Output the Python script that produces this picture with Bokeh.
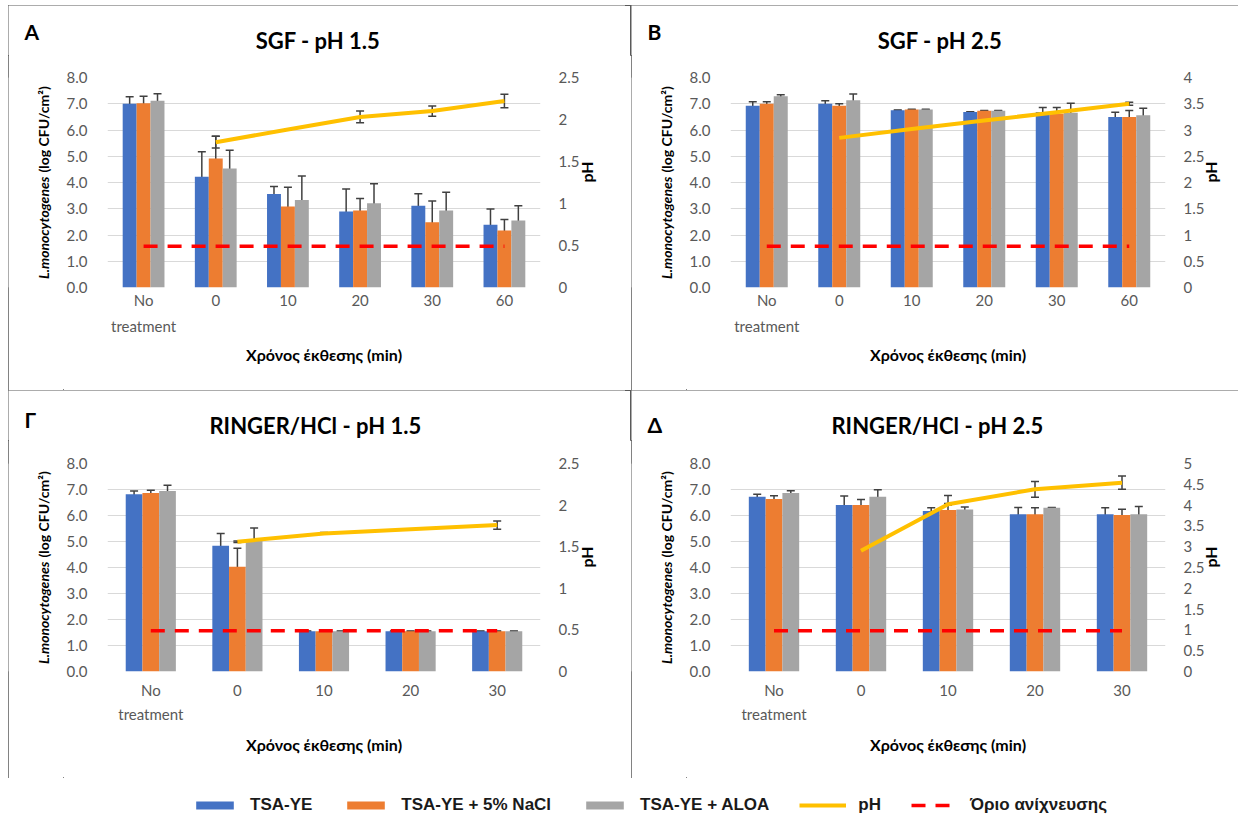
import numpy as np
from bokeh.plotting import figure
from bokeh.models import (Range1d, LinearAxis, FixedTicker, Whisker, ColumnDataSource,
                          Legend, LegendItem, NumeralTickFormatter, TeeHead)
from bokeh.layouts import column, row
from bokeh.core.properties import value
from bokeh.embed import file_html
from bokeh.resources import INLINE

# ---------------- data ----------------
cats_60 = ["No\ntreatment", "0", "10", "20", "30", "60"]
cats_30 = ["No\ntreatment", "0", "10", "20", "30"]

# A: SGF - pH 1.5
a_tsa = [7.00, 4.22, 3.56, 2.90, 3.11, 2.39]
a_tsa_err = [0.27, 0.95, 0.29, 0.85, 0.46, 0.60]
a_nacl = [7.02, 4.91, 3.09, 2.93, 2.49, 2.17]
a_nacl_err = [0.27, 0.85, 0.73, 0.46, 0.81, 0.42]
a_aloa = [7.11, 4.53, 3.33, 3.21, 2.93, 2.55]
a_aloa_err = [0.27, 0.70, 0.92, 0.74, 0.70, 0.56]
a_ph = [1.73, 1.88, 2.03, 2.10, 2.22]
a_ph_err = [0.07, 0.0, 0.07, 0.06, 0.08]

# B: SGF - pH 2.5
b_tsa = [6.92, 7.00, 6.75, 6.69, 6.69, 6.50]
b_tsa_err = [0.16, 0.11, 0.01, 0.01, 0.17, 0.18]
b_nacl = [7.00, 6.92, 6.78, 6.73, 6.62, 6.50]
b_nacl_err = [0.08, 0.08, 0.01, 0.01, 0.24, 0.24]
b_aloa = [7.29, 7.13, 6.78, 6.73, 6.66, 6.56]
b_aloa_err = [0.05, 0.24, 0.01, 0.01, 0.36, 0.27]
b_ph = [2.85, 3.02, 3.18, 3.34, 3.50]
b_ph_err = [0.04, 0.0, 0.0, 0.0, 0.03]

# Γ: RINGER/HCl - pH 1.5
c_tsa = [6.82, 4.84, 1.55, 1.55, 1.55]
c_tsa_err = [0.12, 0.47, 0.01, 0.01, 0.01]
c_nacl = [6.87, 4.03, 1.55, 1.55, 1.55]
c_nacl_err = [0.10, 0.71, 0.01, 0.01, 0.01]
c_aloa = [6.94, 5.03, 1.55, 1.55, 1.55]
c_aloa_err = [0.22, 0.49, 0.01, 0.01, 0.01]
c_ph = [1.56, 1.66, 1.71, 1.76]
c_ph_err = [0.01, 0.01, 0.0, 0.05]

# Δ: RINGER/HCl - pH 2.5
d_tsa = [6.72, 6.40, 6.17, 6.05, 6.05]
d_tsa_err = [0.10, 0.35, 0.13, 0.26, 0.25]
d_nacl = [6.63, 6.40, 6.21, 6.05, 6.02]
d_nacl_err = [0.13, 0.22, 0.56, 0.25, 0.22]
d_aloa = [6.87, 6.72, 6.23, 6.30, 6.05]
d_aloa_err = [0.08, 0.27, 0.10, 0.01, 0.30]
d_ph = [2.90, 4.02, 4.38, 4.54]
d_ph_err = [0.12, 0.02, 0.19, 0.16]

detection_limit = 1.57

series_names = ["TSA-YE", "TSA-YE + 5% NaCl", "TSA-YE + ALOA"]
series_colors = ["#4472C4", "#ED7D31", "#A5A5A5"]
ph_color = "#FFC000"
det_color = "#FF0000"
err_color = "#404040"

FONT = "Lato"
TICK_COLOR = "#595959"
BAR_W = 0.193
HEAD_H = 50
YL_W = 55
BORDER = {"outline": "1px solid #595959", "outline-offset": "-1px"}


def bare(w, h, yr=None):
    f = figure(width=w, height=h, x_range=Range1d(0, w),
               y_range=Range1d(0, h) if yr is None else Range1d(0, yr),
               min_border=0, toolbar_location=None, output_backend="svg",
               x_axis_location=None, y_axis_location=None)
    f.grid.visible = False
    f.outline_line_color = None
    return f


def make_panel(cats, vals, errs, ph, ph_err, ph_max, letter, title, geom,
               xlab_standoff, xlab_lh, xtitle_standoff, ph_standoff, letter_y):
    n = len(cats)
    ml, fw, mr, mt, fh, mb = geom
    pw = ml + fw + mr
    ph_tot = mt + fh + mb
    body_h = ph_tot - HEAD_H

    p = figure(frame_width=fw, frame_height=fh,
               min_border_left=ml - YL_W, min_border_right=mr,
               min_border_top=mt - HEAD_H, min_border_bottom=mb,
               x_range=Range1d(-0.5, n - 0.5), y_range=Range1d(0, 8),
               toolbar_location=None, output_backend="svg")
    p.extra_y_ranges = {"ph": Range1d(0, ph_max)}
    p.outline_line_color = None
    p.xgrid.visible = False
    p.ygrid.ticker = FixedTicker(ticks=list(range(9)))
    p.ygrid.grid_line_color = "#D9D9D9"

    idx = np.arange(n)
    for k in range(3):
        xs = idx + (k - 1) * BAR_W
        v = np.array(vals[k])
        e = np.array(errs[k])
        p.vbar(x=xs, top=v, width=BAR_W, fill_color=series_colors[k], line_color=None)
        src = ColumnDataSource(dict(x=xs, upper=v + e, lower=v - e))
        p.add_layout(Whisker(source=src, base="x", upper="upper", lower="lower",
                             line_color=err_color, line_width=1.5,
                             upper_head=TeeHead(size=8, line_color=err_color, line_width=1.5),
                             lower_head=TeeHead(size=8, line_color=err_color, line_width=1.5)))

    p.line(x=idx, y=[detection_limit] * n, line_color=det_color, line_width=3.5, line_dash="14 10")

    px = idx[1:]
    phv = np.array(ph)
    phe = np.array(ph_err)
    p.line(x=px, y=phv, y_range_name="ph", line_color=ph_color, line_width=4)
    psrc = ColumnDataSource(dict(x=px, upper=phv + phe, lower=phv - phe))
    p.add_layout(Whisker(source=psrc, base="x", upper="upper", lower="lower", y_range_name="ph",
                         line_color=err_color, line_width=1.5,
                         upper_head=TeeHead(size=8, line_color=err_color, line_width=1.5),
                         lower_head=TeeHead(size=8, line_color=err_color, line_width=1.5)))

    p.xaxis.ticker = FixedTicker(ticks=list(range(n)))
    p.xaxis.major_label_overrides = {i: c for i, c in enumerate(cats)}
    p.yaxis.ticker = FixedTicker(ticks=list(range(9)))
    p.yaxis.formatter = NumeralTickFormatter(format="0.0")
    rax = LinearAxis(y_range_name="ph",
                     ticker=FixedTicker(ticks=list(np.arange(0, ph_max + 0.01, 0.5))),
                     formatter=NumeralTickFormatter(format="0.[0]"))
    p.add_layout(rax, "right")
    for ax in [p.xaxis[0], p.yaxis[0], rax]:
        ax.axis_line_color = None
        ax.major_tick_line_color = None
        ax.minor_tick_line_color = None
        ax.major_label_text_font = FONT
        ax.major_label_text_font_size = "15px"
        ax.major_label_text_color = TICK_COLOR
        ax.axis_label_text_font = FONT
        ax.axis_label_text_font_style = "bold"
        ax.axis_label_text_font_size = "16px"
        ax.axis_label_text_color = "#000000"
    p.xaxis.major_label_standoff = xlab_standoff
    p.xaxis.major_label_text_line_height = xlab_lh
    p.xaxis.axis_label = "Χρόνος έκθεσης (min)"
    p.xaxis.axis_label_standoff = xtitle_standoff
    p.yaxis[0].major_label_standoff = 14
    rax.major_label_standoff = 12
    rax.axis_label = "pH"
    rax.axis_label_standoff = ph_standoff
    if "axis_label_orientation" in rax.properties():
        rax.axis_label_orientation = float(np.pi / 2)

    # header with panel letter and title
    head = bare(pw, HEAD_H)
    head.text(x=[16], y=[HEAD_H - letter_y], text=[letter], text_font=value(FONT),
              text_font_style="bold", text_font_size="21px", text_align="left",
              text_baseline="middle", text_color="#000000")
    head.text(x=[ml + fw / 2], y=[HEAD_H - 35], text=[title], text_font=value(FONT),
              text_font_style="bold", text_font_size="22px", text_align="center",
              text_baseline="middle", text_color="#000000")

    # y axis title; this strip's plot area lines up with the chart's plot area,
    # so its vertical range is the frame height in pixels
    yl = bare(YL_W, body_h, yr=fh)
    split = fh / 2 + 8
    yl.text(x=[35], y=[split - 2], text=["L.monocytogenes"], angle=np.pi / 2,
            text_font=value(FONT), text_font_style="bold italic", text_font_size="14px",
            text_align="right", text_baseline="middle", text_color="#000000")
    yl.text(x=[35], y=[split + 2], text=["(log CFU/cm²)"], angle=np.pi / 2,
            text_font=value(FONT), text_font_style="bold", text_font_size="14px",
            text_align="left", text_baseline="middle", text_color="#000000")

    return column(head, row(yl, p), styles=BORDER)


geom_A = (93, 433, 91, 72, 210, 103)
geom_B = (91, 435, 85, 72, 210, 103)
geom_C = (93, 433, 91, 73, 208, 107)
geom_D = (91, 435, 85, 73, 208, 107)

pA = make_panel(cats_60, [a_tsa, a_nacl, a_aloa], [a_tsa_err, a_nacl_err, a_aloa_err],
                a_ph, a_ph_err, 2.5, "A", "SGF - pH 1.5", geom_A, -3, 1.45, 7, 4, 26)
pB = make_panel(cats_60, [b_tsa, b_nacl, b_aloa], [b_tsa_err, b_nacl_err, b_aloa_err],
                b_ph, b_ph_err, 4.0, "B", "SGF - pH 2.5", geom_B, -3, 1.45, 7, 3, 26)
pC = make_panel(cats_30, [c_tsa, c_nacl, c_aloa], [c_tsa_err, c_nacl_err, c_aloa_err],
                c_ph, c_ph_err, 2.5, "Γ", "RINGER/HCl  - pH 1.5", geom_C, 3, 1.35, 9, 4, 29)
pD = make_panel(cats_30, [d_tsa, d_nacl, d_aloa], [d_tsa_err, d_nacl_err, d_aloa_err],
                d_ph, d_ph_err, 5.0, "Δ", "RINGER/HCl  - pH 2.5", geom_D, 3, 1.35, 9, 3, 34)

# legend strip
lg = bare(1228, 36)
rs = []
for k in range(3):
    rs.append(lg.vbar(x=[5000], top=[1], width=1, fill_color=series_colors[k], line_color=None))
r_ph = lg.line(x=[5000, 5001], y=[1, 1], line_color=ph_color, line_width=4)
r_det = lg.line(x=[5000, 5001], y=[1, 1], line_color=det_color, line_width=3.5, line_dash="14 10")
items = [LegendItem(label=series_names[k], renderers=[rs[k]]) for k in range(3)]
items.append(LegendItem(label="pH", renderers=[r_ph]))
items.append(LegendItem(label="Όριο ανίχνευσης", renderers=[r_det]))
legend = Legend(items=items, orientation="horizontal", location=(183, -1),
                glyph_width=47, glyph_height=10, label_height=10, label_standoff=12,
                spacing=30, padding=0, margin=0, border_line_color=None,
                background_fill_alpha=0,
                label_text_font="Liberation Sans", label_text_font_style="bold",
                label_text_font_size="17px", label_text_color="#1A1A1A",
                label_text_baseline="middle")
lg.add_layout(legend, "center")

layout = column(row(pA, pB), row(pC, pD), lg, margin=(5, 0, 0, 8))
open("out.html", "w").write(file_html(layout, INLINE))
